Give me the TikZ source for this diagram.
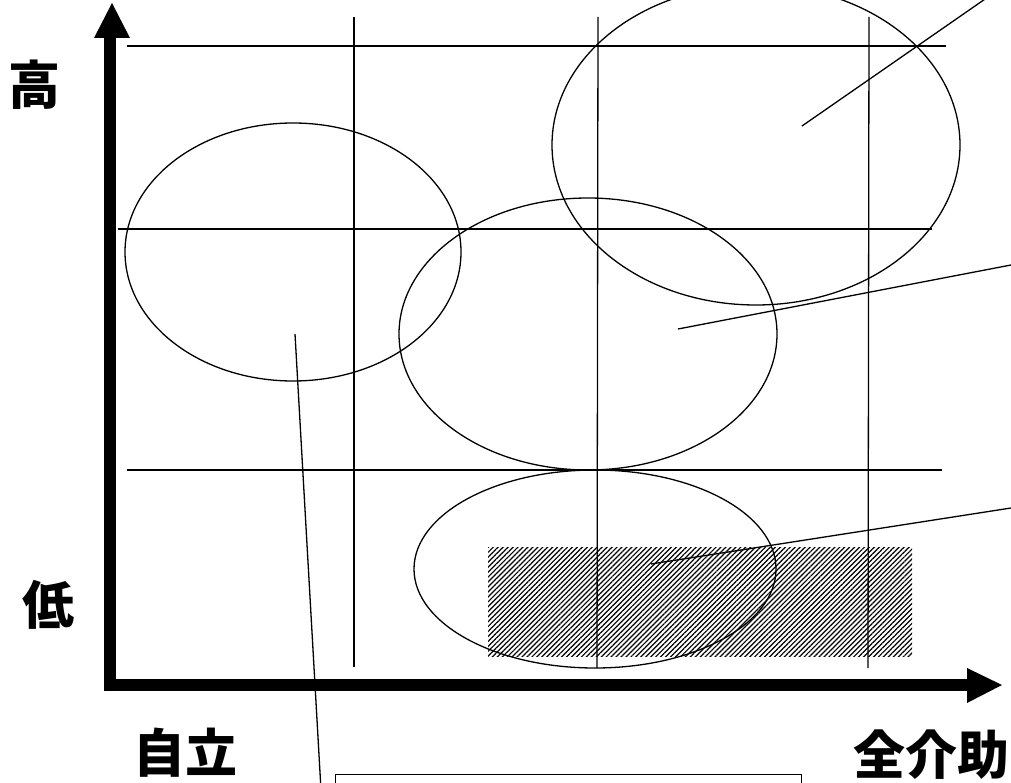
\documentclass[tikz,border=0pt]{standalone}
\usepackage{fontspec}
\newfontfamily\cjk{Noto Sans CJK JP}
\usetikzlibrary{patterns.meta}
\begin{document}
\begin{tikzpicture}[x=1pt,y=-1pt,
  thin line/.style={line width=1.3pt,black},
  axis/.style={line width=12pt,black},
  label/.style={font=\cjk\bfseries\fontsize{52}{52}\selectfont,inner sep=0pt}]
\useasboundingbox (0,0) rectangle (1011,783);
\begin{scope}
\clip (0,0) rectangle (1011,783);
% hatched area
\fill[pattern={Lines[angle=45,distance=3.5pt,line width=1.2pt]}] (488,547) rectangle (912,656);
% grid lines
\draw[thin line] (127,46) -- (946,46);
\draw[thin line] (118,229) -- (932,229);
\draw[thin line] (127,470) -- (942,470);
\draw[thin line] (354,17) -- (354,667);
\draw[thin line] (598,17) -- (597,668);
\draw[thin line] (869,17) -- (868,668);
% ellipses
\draw[thin line] (293,252) ellipse [x radius=168, y radius=129];
\draw[thin line] (756,145) ellipse [x radius=204, y radius=160];
\draw[thin line] (588,334) ellipse [x radius=189, y radius=136];
\draw[thin line] (595,569) ellipse [x radius=181, y radius=99];
% leader lines
\coordinate (l1a) at (802,126); \coordinate (l1b) at (988,-3);
\coordinate (l2a) at (678,329); \coordinate (l2b) at (1011,265);
\coordinate (l3a) at (651,564); \coordinate (l3b) at (1011,508);
\coordinate (l4a) at (295,334); \coordinate (l4b) at (321,790);
\draw[thin line] (l1a) -- (l1b);
\draw[thin line] (l2a) -- (l2b);
\draw[thin line] (l3a) -- (l3b);
\draw[thin line] (l4a) -- (l4b);
% bottom box
\node[draw,line width=1.3pt,minimum width=466pt,minimum height=40pt,anchor=north west,inner sep=0pt] (box) at (335,774) {};
\end{scope}
% axes
\draw[axis] (110,691) -- (110,36);
\fill (112,3) -- (94,38) -- (130,38) -- cycle;
\draw[axis] (104,685) -- (968,685);
\fill (1002,685) -- (967,668) -- (967,703) -- cycle;
% labels
\node[label] (hi) at (35,85) {高};
\node[label] (lo) at (48,605) {低};
\node[label] (ind) at (185,753) {自立};
\node[label] (full) at (931,755) {全介助};
\end{tikzpicture}
\end{document}
